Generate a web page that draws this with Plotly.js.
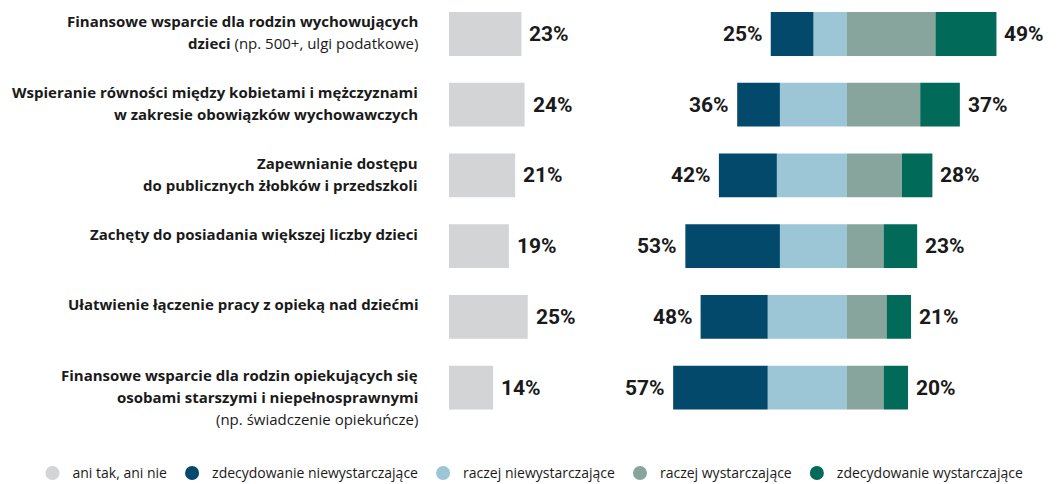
<!DOCTYPE html>
<html>
<head>
<meta charset="utf-8">
<script src="https://cdn.plot.ly/plotly-3.0.1.min.js"></script>
<style>html,body{margin:0;padding:0;background:#fff;}#chart{width:1061px;height:484px;}</style>
</head>
<body>
<div id="chart"></div>
<script>
// ---- data ----
const categories = [
  "<b>Finansowe wsparcie dla rodzin wychowujących</b><br><b>dzieci</b> <span style=\"font-weight:400\">(np. 500+, ulgi podatkowe)</span>",
  "<b>Wspieranie równości między kobietami i mężczyznami</b><br><b>w zakresie obowiązków wychowawczych</b>",
  "<b>Zapewnianie dostępu</b><br><b>do publicznych żłobków i przedszkoli</b>",
  "<b>Zachęty do posiadania większej liczby dzieci</b>",
  "<b>Ułatwienie łączenie pracy z opieką nad dziećmi</b>",
  "<b>Finansowe wsparcie dla rodzin opiekujących się</b><br><b>osobami starszymi i niepełnosprawnymi</b><br><span style=\"font-weight:400\">(np. świadczenie opiekuńcze)</span>"
];
const neutral     = [23, 24, 21, 19, 25, 14];
const strongNeg   = [14, 14, 19, 31, 22, 31];
const ratherNeg   = [11, 22, 23, 22, 26, 26];
const ratherPos   = [29, 24, 18, 12, 13, 12];
const strongPos   = [20, 13, 10, 11,  8,  8];
const seriesNames = ["ani tak, ani nie", "zdecydowanie niewystarczające", "raczej niewystarczające", "raczej wystarczające", "zdecydowanie wystarczające"];
const colors      = ["#d3d4d6", "#03496b", "#9cc5d5", "#87a59d", "#026a59"];

// ---- derived ----
const rows = categories.map((_, i) => i);
const negTotals = rows.map(i => strongNeg[i] + ratherNeg[i]);
const posTotals = rows.map(i => ratherPos[i] + strongPos[i]);
const neg = a => a.map(v => -v);

const barCommon = {type: 'bar', orientation: 'h', width: 0.62, showlegend: false, hoverinfo: 'skip', marker: {line: {width: 0}}};

const traces = [
  Object.assign({}, barCommon, {x: neutral, y: rows, xaxis: 'x', yaxis: 'y', marker: {color: colors[0]}}),
  Object.assign({}, barCommon, {x: neg(ratherNeg), y: rows, xaxis: 'x2', yaxis: 'y', marker: {color: colors[2]}}),
  Object.assign({}, barCommon, {x: neg(strongNeg), y: rows, xaxis: 'x2', yaxis: 'y', marker: {color: colors[1]}}),
  Object.assign({}, barCommon, {x: ratherPos, y: rows, xaxis: 'x2', yaxis: 'y', marker: {color: colors[3]}}),
  Object.assign({}, barCommon, {x: strongPos, y: rows, xaxis: 'x2', yaxis: 'y', marker: {color: colors[4]}})
];
// legend entries (circles)
seriesNames.forEach((n, k) => {
  traces.push({type: 'scatter', mode: 'markers', x: [null], y: [null], xaxis: 'x', yaxis: 'y', name: n,
    marker: {symbol: 'circle', size: 14, color: colors[k]}, showlegend: true, hoverinfo: 'skip'});
});

const annotations = [];
const labelFont = {family: 'Open Sans, sans-serif', size: 15, color: '#1a1a1a', weight: 600};
categories.forEach((c, i) => {
  c.split('<br>').forEach((line, k) => {
    annotations.push({xref: 'paper', yref: 'y', x: 420 / 1061, y: i, xanchor: 'right', yanchor: 'middle',
      yshift: 12.5 - 22 * k, text: line, showarrow: false, align: 'right', font: labelFont});
  });
});
const valFont = {family: 'Roboto, sans-serif', size: 21, color: '#1a1a1a', weight: 700};
rows.forEach(i => {
  annotations.push({xref: 'x', yref: 'y', x: neutral[i], y: i, xanchor: 'left', yanchor: 'middle', xshift: 6,
    text: neutral[i] + '%', showarrow: false, font: valFont});
  annotations.push({xref: 'x2', yref: 'y', x: -negTotals[i], y: i, xanchor: 'right', yanchor: 'middle', xshift: -6,
    text: negTotals[i] + '%', showarrow: false, font: valFont});
  annotations.push({xref: 'x2', yref: 'y', x: posTotals[i], y: i, xanchor: 'left', yanchor: 'middle', xshift: 6,
    text: posTotals[i] + '%', showarrow: false, font: valFont});
});

const hiddenAxis = {showgrid: false, zeroline: false, showticklabels: false, showline: false, ticks: '', fixedrange: true};

const layout = {
  width: 1061, height: 484,
  margin: {l: 0, r: 0, t: 0, b: 61, autoexpand: false},
  paper_bgcolor: '#ffffff', plot_bgcolor: 'rgba(0,0,0,0)',
  barmode: 'relative',
  showlegend: true,
  legend: {orientation: 'h', x: 0.5, xanchor: 'center', y: -0.119, yanchor: 'middle', itemwidth: 30,
    font: {family: 'Open Sans, sans-serif', size: 14, color: '#1a1a1a'}, bgcolor: 'rgba(0,0,0,0)', itemclick: false},
  xaxis: Object.assign({}, hiddenAxis, {domain: [449 / 1061, 575 / 1061], range: [0, 40], anchor: 'y'}),
  xaxis2: Object.assign({}, hiddenAxis, {domain: [664 / 1061, 1060.5 / 1061], range: [-60, 70], anchor: 'y'}),
  yaxis: Object.assign({}, hiddenAxis, {range: [5.5, -0.48], anchor: 'x'}),
  annotations: annotations
};

Plotly.newPlot('chart', traces, layout, {displayModeBar: false, staticPlot: true});
</script>
</body>
</html>
